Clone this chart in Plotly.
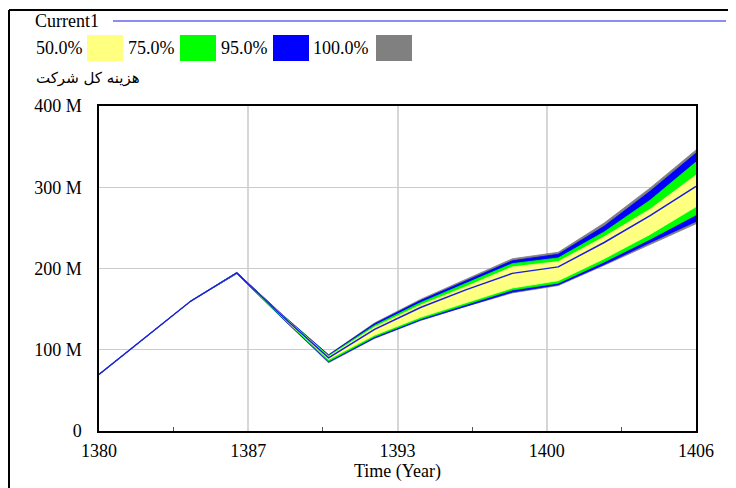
import plotly.graph_objects as go

# ---------------- data (values in millions) ----------------
years = [1380, 1382, 1384, 1386, 1388, 1390, 1392, 1394, 1396, 1398, 1400, 1402, 1404, 1406]
current1 = [69.6, 114.8, 160, 194.5, 141, 90, 125, 152, 174, 194, 202, 232, 265, 301]
p100_hi = [69.6, 114.8, 160, 195.2, 143, 94, 133, 162, 187, 212, 220, 256, 299, 346]
p95_hi = [69.6, 114.8, 160, 195.0, 142.5, 93.5, 132, 160.5, 185, 209.5, 217.5, 252, 295, 342]
p75_hi = [69.6, 114.8, 160, 194.8, 142, 92.5, 130, 158, 182, 206, 213, 245, 284, 331]
p50_hi = [69.6, 114.8, 160, 194.6, 141.5, 91.5, 128, 155, 178, 202, 208.5, 239, 273, 315]
p50_lo = [69.6, 114.8, 160, 194.3, 140, 88, 118, 140, 158, 176, 185, 212, 242, 276]
p75_lo = [69.6, 114.8, 160, 194.0, 139, 86, 116, 138, 156, 173.5, 182, 208, 236, 266]
p95_lo = [69.6, 114.8, 160, 193.8, 138.5, 85, 114.5, 136.5, 154, 171, 180, 205, 232, 258]
p100_lo = [69.6, 114.8, 160, 193.5, 138, 84, 114, 136, 153.5, 170, 179, 204, 230, 255]

x_tickvals = [1380, 1386.5, 1393, 1399.5, 1406]
x_ticktext = ["1380", "1387", "1393", "1400", "1406"]
x_minor = [1383.25, 1389.75, 1396.25, 1402.75]
y_tickvals = [0, 100e6, 200e6, 300e6, 400e6]
y_ticktext = ["0", "100 M", "200 M", "300 M", "400 M"]

legend_labels = ["50.0%", "75.0%", "95.0%", "100.0%"]
legend_colors = ["#ffff80", "#00ff00", "#0000ff", "#808080"]
series_name = "Current1"
var_title = "هزینه کل شرکت"
x_title = "Time (Year)"

M = 1e6
def scale(v):
    return [a * M for a in v]

# ---------------- figure ----------------
# the page body has an 8px margin, so screen = figure + 8
OFF = 8
W, H = 736, 488
L = 99 - OFF
R = W + OFF - 696
T = 106 - OFF
B = H + OFF - 431
PW, PH = W - L - R, H - T - B

def pxx(x):  # screen x -> paper
    return (x - OFF - L) / PW

def pxy(y):  # screen y -> paper
    return (H - B - (y - OFF)) / PH

FONT = "Liberation Serif, Times New Roman, serif"
FS = 18
fig = go.Figure()

bands = [
    (p100_lo, p100_hi, "#808080"),
    (p95_lo, p95_hi, "#0000ff"),
    (p75_lo, p75_hi, "#00ff00"),
    (p50_lo, p50_hi, "#ffff80"),
]
for lo, hi, col in bands:
    fig.add_trace(go.Scatter(x=years, y=scale(lo), mode="lines",
                             line=dict(width=0.8, color=col), showlegend=False,
                             hoverinfo="skip"))
    fig.add_trace(go.Scatter(x=years, y=scale(hi), mode="lines", fill="tonexty",
                             fillcolor=col, line=dict(width=0.8, color=col),
                             showlegend=False, hoverinfo="skip"))

fig.add_trace(go.Scatter(x=years, y=scale(current1), mode="lines",
                         line=dict(width=1.5, color="#1a1ae8"), name=series_name,
                         showlegend=False))

fig.update_layout(
    width=W, height=H,
    margin=dict(l=L, r=R, t=T, b=B, autoexpand=False),
    paper_bgcolor="white", plot_bgcolor="white",
    font=dict(family=FONT, size=FS, color="black"),
    showlegend=False,
)
fig.update_xaxes(
    range=[1380, 1406], tickvals=x_tickvals, ticktext=x_ticktext,
    showgrid=True, gridcolor="#d6d6d6", gridwidth=2,
    showline=True, linecolor="black", linewidth=1.5, mirror=True,
    ticks="", ticklabelstandoff=3,
    minor=dict(tickvals=x_minor, ticks="inside", ticklen=4, tickcolor="#555", showgrid=False),
    title=dict(text=x_title, standoff=1, font=dict(size=FS)),
    zeroline=False,
)
fig.update_yaxes(
    range=[0, 400e6], tickvals=y_tickvals, ticktext=y_ticktext,
    showgrid=True, gridcolor="#cccccc", gridwidth=1,
    showline=True, linecolor="black", linewidth=1.5, mirror=True,
    ticks="", ticklabelstandoff=12, zeroline=False,
)

shapes = []
annotations = []

# outer frame (left and top edges)
shapes.append(dict(type="line", xref="paper", yref="paper",
                   x0=pxx(9), x1=pxx(9), y0=pxy(10), y1=pxy(500),
                   line=dict(color="black", width=2)))
shapes.append(dict(type="line", xref="paper", yref="paper",
                   x0=pxx(9), x1=pxx(750), y0=pxy(10), y1=pxy(10),
                   line=dict(color="black", width=2)))

# legend row 1: Current1 with line
annotations.append(dict(text=series_name, xref="paper", yref="paper", x=pxx(33), y=pxy(21),
                        xanchor="left", yanchor="middle", showarrow=False, font=dict(size=FS)))
shapes.append(dict(type="line", xref="paper", yref="paper",
                   x0=pxx(113), x1=pxx(726), y0=pxy(21), y1=pxy(21),
                   line=dict(color="#1a1ae8", width=1.2)))

# legend row 2
text_x = [34, 126, 219, 311]
box_x = [87, 180, 273, 376]
for lab, col, tx, bx in zip(legend_labels, legend_colors, text_x, box_x):
    annotations.append(dict(text=lab, xref="paper", yref="paper", x=pxx(tx), y=pxy(48),
                            xanchor="left", yanchor="middle", showarrow=False, font=dict(size=FS)))
    shapes.append(dict(type="rect", xref="paper", yref="paper",
                       x0=pxx(bx), x1=pxx(bx + 36), y0=pxy(61), y1=pxy(35),
                       fillcolor=col, line=dict(width=0)))

# variable title
annotations.append(dict(text=var_title, xref="paper", yref="paper", x=pxx(34), y=pxy(78),
                        xanchor="left", yanchor="middle", showarrow=False,
                        font=dict(size=15, family="DejaVu Sans, Noto Sans")))

fig.update_layout(shapes=shapes, annotations=annotations)
fig.write_html("out.html")
